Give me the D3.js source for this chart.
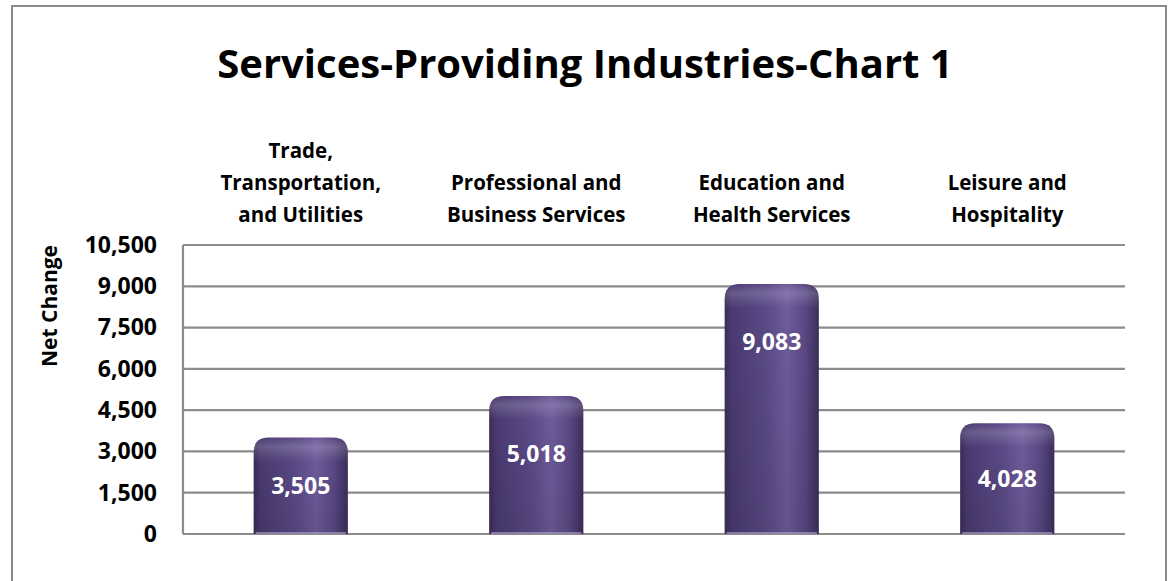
<!DOCTYPE html>
<html>
<head>
<meta charset="utf-8">
<script src="https://cdn.jsdelivr.net/npm/d3@7"></script>
<style>
html,body{margin:0;padding:0;background:#fff;}
svg{display:block;}
text{font-family:"Open Sans","DejaVu Sans",sans-serif;font-weight:bold;}
</style>
</head>
<body>
<svg id="chart" width="1170" height="581"></svg>
<script>
const title = "Services-Providing Industries-Chart 1";
const categories = [
  ["Trade,", "Transportation,", "and Utilities"],
  ["Professional and", "Business Services"],
  ["Education and", "Health Services"],
  ["Leisure and", "Hospitality"]
];
const values = [3505, 5018, 9083, 4028];
const tickValues = [0, 1500, 3000, 4500, 6000, 7500, 9000, 10500];
const yAxisTitle = "Net Change";

const svg = d3.select("#chart");
const plot = {left: 183, right: 1125, top: 245, bottom: 534};

// outer border
svg.append("path")
  .attr("d", `M12,581 V6 H1166 V581`)
  .attr("fill", "none").attr("stroke", "#8a8a8a").attr("stroke-width", 2);

// defs
const defs = svg.append("defs");
const g1 = defs.append("linearGradient").attr("id", "barGrad").attr("x1", "0").attr("x2", "1").attr("y1", "0").attr("y2", "0");
[[0, "#3c2c5c"], [0.08, "#4b3b72"], [0.45, "#5c4b88"], [0.66, "#6f5c9c"], [0.85, "#5b4a86"], [1, "#3d2e5e"]]
  .forEach(([o, c]) => g1.append("stop").attr("offset", o).attr("stop-color", c));
const g2 = defs.append("linearGradient").attr("id", "topGrad").attr("x1", "0").attr("x2", "0").attr("y1", "0").attr("y2", "1");
[[0, "#ffffff", 0.0], [0.15, "#ffffff", 0.16], [0.4, "#ffffff", 0.0], [1, "#ffffff", 0]]
  .forEach(([o, c, a]) => g2.append("stop").attr("offset", o).attr("stop-color", c).attr("stop-opacity", a));
const g3 = defs.append("linearGradient").attr("id", "shadeGrad").attr("x1", "0").attr("x2", "0").attr("y1", "0").attr("y2", "1");
[[0, "#000", 0.0], [1, "#000", 0.1]]
  .forEach(([o, c, a]) => g3.append("stop").attr("offset", o).attr("stop-color", c).attr("stop-opacity", a));

const x = d3.scaleBand().domain(d3.range(categories.length)).range([plot.left, plot.right]).paddingInner(0.6).paddingOuter(0.3);
const y = d3.scaleLinear().domain([0, 10500]).range([plot.bottom, plot.top]);

// gridlines
svg.append("g").selectAll("line").data(tickValues).join("line")
  .attr("x1", plot.left).attr("x2", plot.right)
  .attr("y1", d => y(d)).attr("y2", d => y(d))
  .attr("stroke", "#8c8c8c").attr("stroke-width", 2.2);
// vertical axis line
svg.append("line").attr("x1", plot.left).attr("x2", plot.left)
  .attr("y1", plot.top).attr("y2", plot.bottom)
  .attr("stroke", "#8c8c8c").attr("stroke-width", 2.2);

// y axis labels
const yAxis = d3.axisLeft(y).tickValues(tickValues).tickFormat(d3.format(",")).tickSize(0).tickPadding(26);
const ya = svg.append("g").attr("transform", `translate(${plot.left},0)`).call(yAxis);
ya.select(".domain").remove();
ya.selectAll("text").attr("font-size", 23).attr("fill", "#000")
  .style("font-family", '"Open Sans", sans-serif').style("font-weight", "bold");

// y axis title
svg.append("text")
  .attr("transform", `translate(57,${(plot.top + 367) / 2}) rotate(-90)`)
  .attr("text-anchor", "middle").attr("font-size", 21).attr("fill", "#000")
  .text(yAxisTitle);

// title
svg.append("text").attr("x", 585).attr("y", 78).attr("text-anchor", "middle")
  .attr("font-size", 40).attr("fill", "#000").text(title);

// category labels (top)
const lineH = 32, lastBase = 222;
categories.forEach((lines, i) => {
  const cx = x(i) + x.bandwidth() / 2;
  const t = svg.append("text").attr("text-anchor", "middle").attr("font-size", 20.5).attr("fill", "#000");
  lines.forEach((ln, j) => {
    t.append("tspan").attr("x", cx).attr("y", lastBase - (lines.length - 1 - j) * lineH).text(ln);
  });
});

// bars
const r = 15;
function barPath(x0, w, top, bottom) {
  return `M${x0},${bottom} V${top + r} Q${x0},${top} ${x0 + r},${top} H${x0 + w - r} Q${x0 + w},${top} ${x0 + w},${top + r} V${bottom} Z`;
}
const bars = svg.append("g");
values.forEach((v, i) => {
  const x0 = x(i), w = x.bandwidth(), top = y(v), bottom = y(0);
  const d = barPath(x0, w, top, bottom);
  bars.append("path").attr("d", d).attr("fill", "url(#barGrad)");
  bars.append("path").attr("d", d).attr("fill", "url(#shadeGrad)");
  bars.append("path").attr("d", barPath(x0, w, top, Math.min(bottom, top + 60))).attr("fill", "url(#topGrad)");
  bars.append("line").attr("x1", x0 + 2).attr("x2", x0 + w - 2).attr("y1", bottom - 1).attr("y2", bottom - 1)
    .attr("stroke", "#b7a9cf").attr("stroke-width", 1.5).attr("opacity", 0.8);
});

// data labels
svg.append("g").selectAll("text").data(values).join("text")
  .attr("x", (d, i) => x(i) + x.bandwidth() / 2)
  .attr("y", d => Math.min((y(d) + y(0)) / 2, y(d) + 58))
  .attr("dy", "0.35em")
  .attr("text-anchor", "middle").attr("font-size", 23).attr("fill", "#fff")
  .text(d => d3.format(",")(d));
</script>
</body>
</html>
